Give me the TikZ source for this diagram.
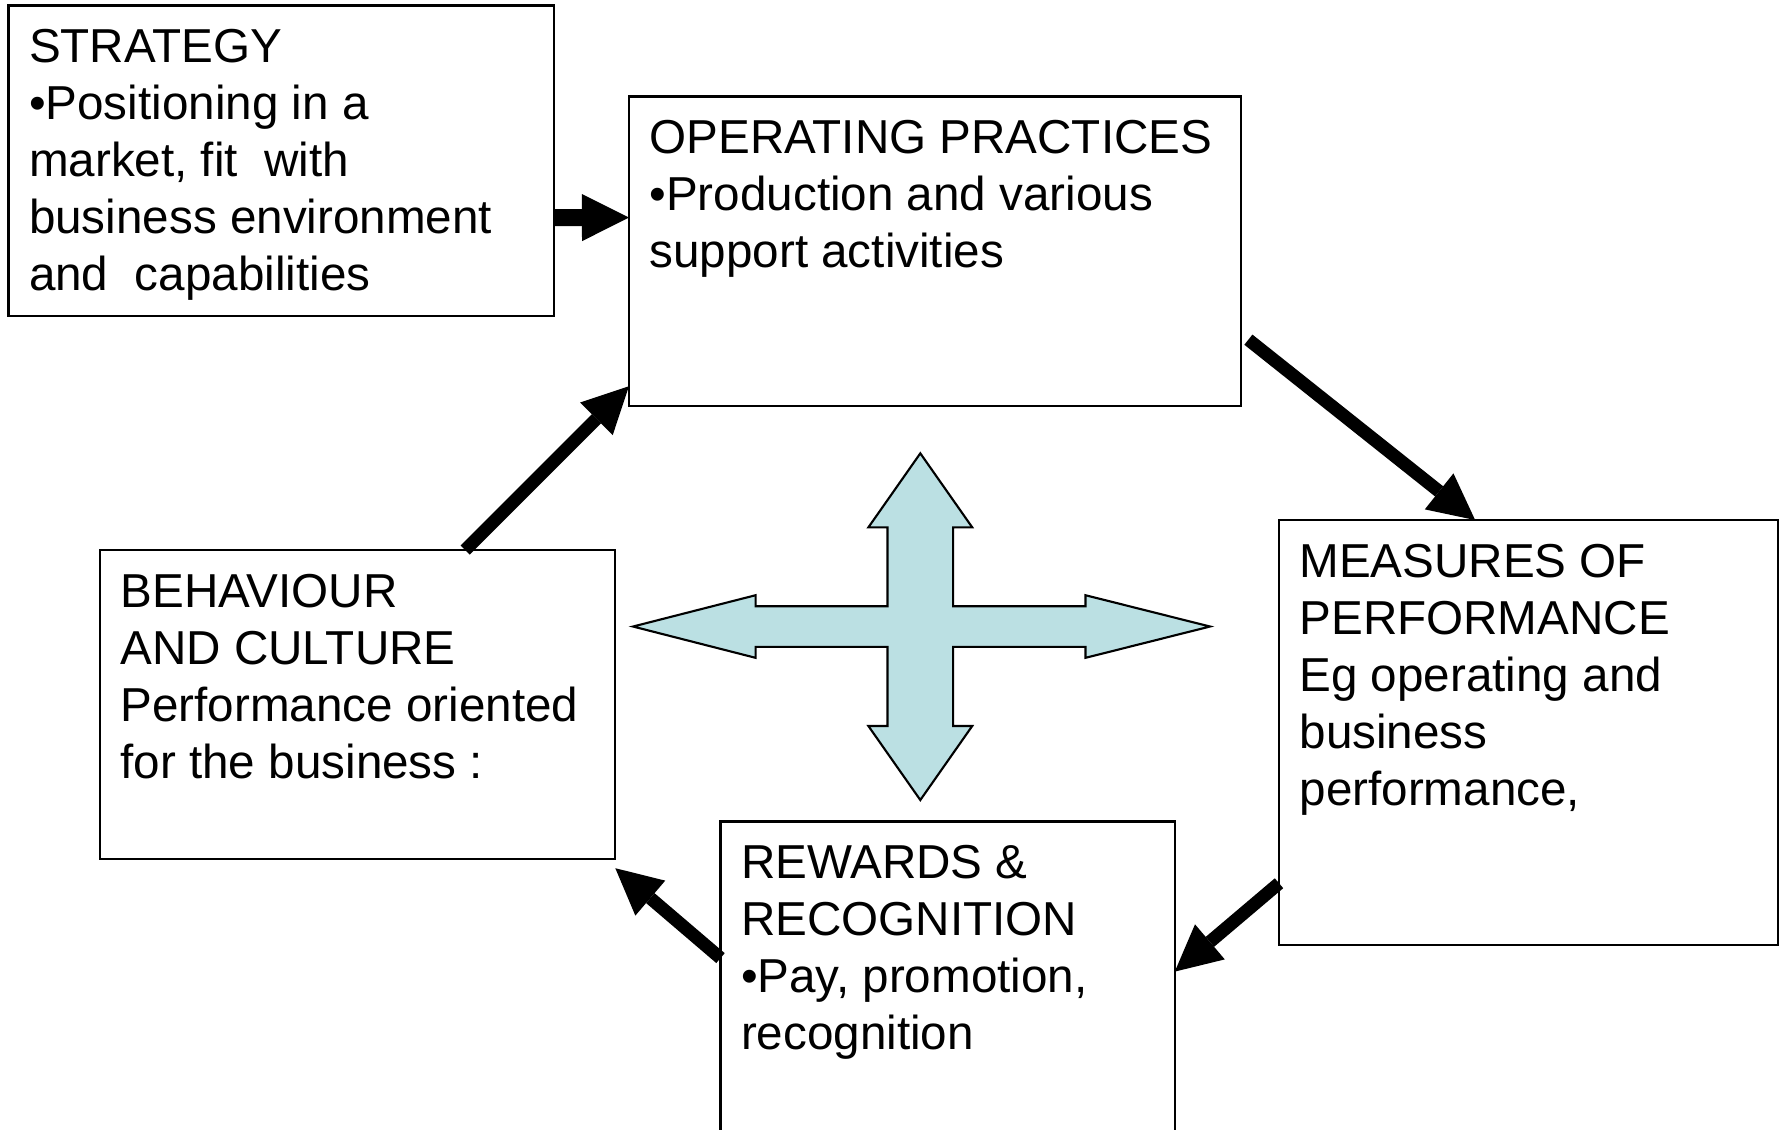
\documentclass[tikz,border=0pt]{standalone}
\usepackage{fontspec}
\setmainfont{Liberation Sans}[Ligatures=NoCommon]
\usetikzlibrary{arrows.meta}
\definecolor{crossfill}{RGB}{187,224,227}
% text block of a panel: fixed size, top aligned, first baseline 5.7mm below the top edge
\newcommand{\panelbody}[3]{\parbox[c][#2][t]{#1}{\raggedright\leftskip=2.05mm\rule{0pt}{5.7mm}#3}}

\begin{document}
\begin{tikzpicture}[x=0.01cm, y=-0.01cm,
  panel/.style={draw, line width=0.6pt, rectangle, anchor=north west,
    inner sep=0pt, outer sep=0pt, font=\fontsize{13.54pt}{16.22pt}\selectfont},
  flowarrow/.style={line width=1.3mm,
    -{Triangle[length=4.6mm, width=4.6mm, line width=0pt]}},
  wideflow/.style={line width=1.7mm,
    -{Triangle[length=4.7mm, width=4.7mm, line width=0pt]}}]
\useasboundingbox (0,0) rectangle (1783,1129);

% panels
\node[panel] (strategy) at (8.5,5.5)
  {\panelbody{5.455cm}{3.10cm}{STRATEGY\\•Positioning in a\\market, fit\ \ with\\business environment\\and\ \ capabilities}};
\node[panel] (operating) at (629,96.5)
  {\panelbody{6.12cm}{3.095cm}{OPERATING PRACTICES\\•Production and various\\support activities}};
\node[panel] (measures) at (1279,520)
  {\panelbody{4.99cm}{4.25cm}{MEASURES OF\\PERFORMANCE\\Eg operating and\\business\\performance,}};
\node[panel] (behaviour) at (100,550)
  {\panelbody{5.15cm}{3.09cm}{BEHAVIOUR\\AND CULTURE\\Performance oriented\\for the business :}};
\node[panel] (rewards) at (720.5,821.5)
  {\panelbody{4.54cm}{3.40cm}{REWARDS \&\\RECOGNITION\\•Pay, promotion,\\recognition}};

% four-way arrow in the middle
\filldraw[fill=crossfill, draw=black, line width=0.6pt, line join=miter]
  (920.3,453.3) -- (972.2,527.3) -- (953.1,527.3) -- (953.1,606.2)
  -- (1085.5,606.2) -- (1085.5,595.2) -- (1210,626.5) -- (1085.5,657.8)
  -- (1085.5,646.8) -- (953.1,646.8) -- (953.1,726) -- (972.2,726)
  -- (920.3,800) -- (868.4,726) -- (887.5,726) -- (887.5,646.8)
  -- (755.6,646.8) -- (755.6,657.8) -- (633,626.5) -- (755.6,595.2)
  -- (755.6,606.2) -- (887.5,606.2) -- (887.5,527.3) -- (868.4,527.3) -- cycle;

% cycle connectors
\draw[wideflow] ([yshift=-5.7mm]strategy.east) -- ([yshift=3.375mm]operating.west);
\draw[flowarrow] ([xshift=0.7mm,yshift=-8.825mm]operating.east) -- ([xshift=-5.35mm]measures.north);
\draw[flowarrow] ([yshift=-15.05mm]measures.west) -- ([yshift=2mm]rewards.east);
\draw[flowarrow] ([yshift=3.35mm]rewards.west) -- ([yshift=-0.9mm]behaviour.south east);
\draw[flowarrow] ([xshift=10.75mm]behaviour.north) -- ([yshift=-13.475mm]operating.west);
\end{tikzpicture}
\end{document}
